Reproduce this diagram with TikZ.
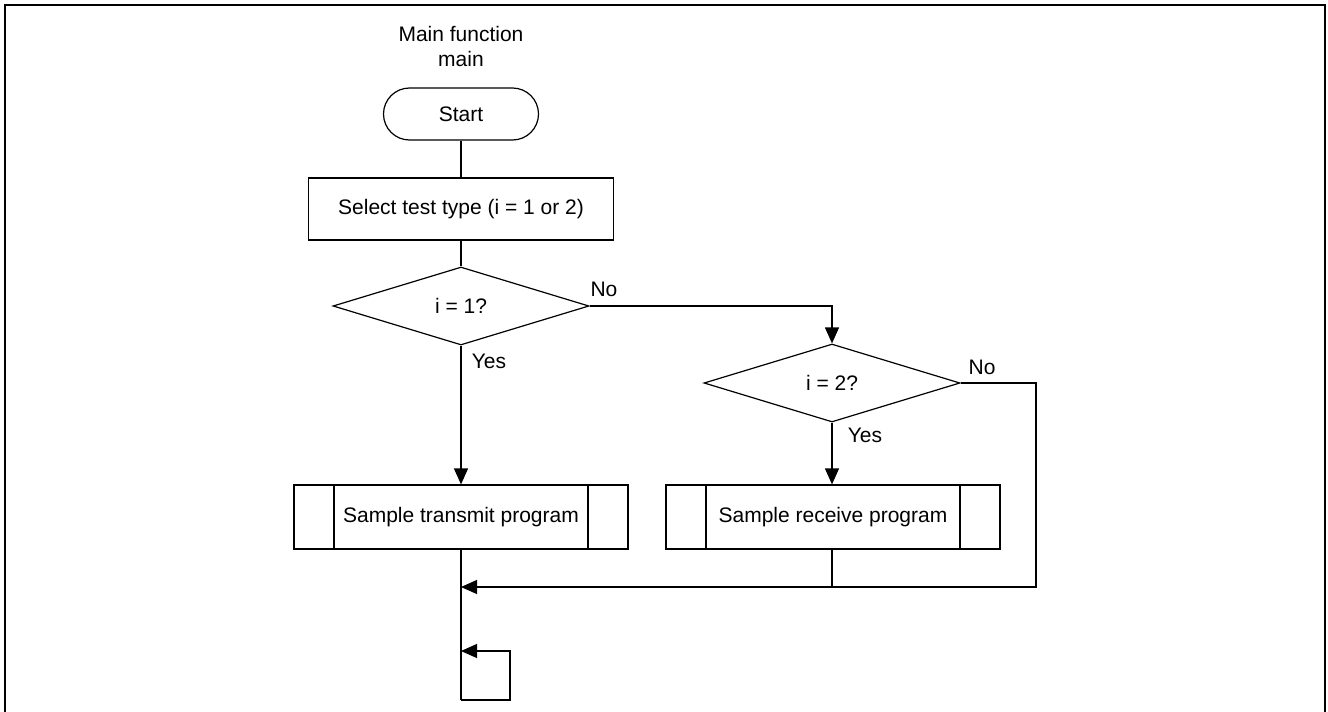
\documentclass[tikz,border=0pt]{standalone}
\usepackage{fontspec}
\setmainfont{Liberation Sans}
\usetikzlibrary{shapes.geometric,arrows.meta}

\begin{document}
\begin{tikzpicture}[x=1pt, y=-1pt,
    every node/.style={font=\fontsize{21}{25}\selectfont, inner sep=0pt},
    flow/.style={draw, line width=1.2pt},
    term/.style={flow, rounded corners=26pt, minimum width=155pt, minimum height=52pt},
    proc/.style={flow, minimum width=305pt, minimum height=62pt},
    decide/.style={flow, diamond, minimum width=256pt, minimum height=78pt},
    subproc/.style={flow, minimum width=334pt, minimum height=64pt,
        path picture={\draw[line width=1.2pt]
            ([xshift=40pt]path picture bounding box.north west) -- ([xshift=40pt]path picture bounding box.south west)
            ([xshift=-40pt]path picture bounding box.north east) -- ([xshift=-40pt]path picture bounding box.south east);}},
    line/.style={line width=1.2pt},
    arr/.style={line, -{Triangle[length=16pt,width=14pt]}}]
    \useasboundingbox (0,0) rectangle (1328,712);

    % Frame (open at the bottom)
    \draw[line width=2.4pt] (5,712) -- (5,5) -- (1325,5) -- (1325,712);

    % Main column
    \node[align=center] (title) at (461,46) {Main function\\main};
    \node[term] (start) at (461,114) {Start};
    \node[proc] (select) at (461,209) {Select test type (i = 1 or 2)};
    \node[decide] (dec1) at (461,306) {i = 1?};
    \node[subproc] (tx) at (461,517) {Sample transmit program};

    % Second branch
    \node[decide] (dec2) at (832,383) {i = 2?};
    \node[subproc] (rx) at (833,517) {Sample receive program};

    % Branch labels
    \node (no1) at (604,289) {No};
    \node (yes1) at (489,361) {Yes};
    \node (no2) at (982,367) {No};
    \node (yes2) at (865,435) {Yes};

    % Join points
    \coordinate (join) at (461,587);
    \coordinate (rcorner) at (1036,587);
    \coordinate (loopstart) at (461,700);

    % Connectors
    \draw[line] (start) -- (select);
    \draw[line] (select) -- (dec1);
    \draw[arr] (dec1.east) -| (dec2.north);
    \draw[arr] (dec1.south) -- (tx.north);
    \draw[arr] (dec2.south) -- (dec2.south |- rx.north);
    \draw[arr] (dec2.east) -| (rcorner) -- (join);
    \draw[line] (rx.south -| dec2.south) -- (dec2.south |- join);
    \draw[line] (tx.south) -- (loopstart);

    % Endless loop
    \draw[arr] (loopstart) -- ++(49,0) -- ++(0,-49) -- ++(-49,0);

\end{tikzpicture}
\end{document}
